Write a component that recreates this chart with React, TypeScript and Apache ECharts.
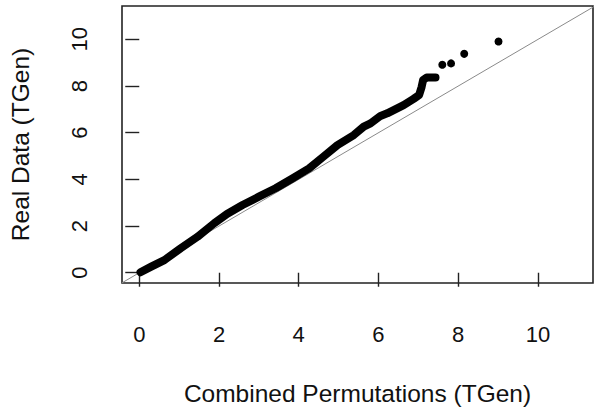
import React, { useEffect, useRef } from "react";
import * as echarts from "echarts";

// Dense quantile band (Combined Permutations vs Real Data)
const bandX = [0.03, 0.3, 0.63, 1.04, 1.46, 1.88, 2.2, 2.59, 3.0, 3.42, 3.84, 4.26, 4.6, 4.97, 5.38, 5.63, 5.8, 6.05, 6.22, 6.63, 6.88, 7.02, 7.08, 7.12, 7.21, 7.43];
const bandY = [0.02, 0.26, 0.54, 1.05, 1.54, 2.12, 2.52, 2.9, 3.26, 3.62, 4.04, 4.47, 4.95, 5.47, 5.9, 6.26, 6.4, 6.72, 6.83, 7.18, 7.45, 7.62, 7.95, 8.26, 8.37, 8.37];
// Isolated upper-tail points
const tailX = [7.6, 7.82, 8.15, 9.01];
const tailY = [8.91, 8.97, 9.38, 9.91];
const tickValues = [0, 2, 4, 6, 8, 10];
const xRange = [-0.433, 11.38];
const yRange = [-0.44, 11.43];

const FONT = "'Liberation Sans', Arial, sans-serif";
const TEXT = "#111";

export default function App() {
  const ref = useRef<HTMLDivElement>(null);
  useEffect(() => {
    document.body.style.margin = "0";
    if (!ref.current) return;
    const chart = echarts.init(ref.current, undefined, { renderer: "svg" });
    const band = bandX.map((x, i) => [x, bandY[i]]);
    const tail = tailX.map((x, i) => [x, tailY[i]]);
    const diag = [
      [Math.min(xRange[0], yRange[0]), Math.min(xRange[0], yRange[0])],
      [Math.max(xRange[1], yRange[1]), Math.max(xRange[1], yRange[1])],
    ];
    chart.setOption({
      animation: false,
      backgroundColor: "#fff",
      grid: {
        left: 121,
        top: 6,
        width: 472,
        height: 277,
        show: true,
        borderColor: "#222",
        borderWidth: 1.6,
        backgroundColor: "transparent",
      },
      xAxis: {
        type: "value",
        min: xRange[0],
        max: xRange[1],
        splitLine: { show: false },
        axisLine: { show: false },
        axisTick: {
          show: true,
          inside: false,
          length: 14,
          lineStyle: { color: "#222", width: 1.4 },
          customValues: tickValues,
        },
        axisLabel: {
          customValues: tickValues,
          margin: 40,
          fontSize: 22,
          color: TEXT,
          fontFamily: FONT,
        },
        name: "Combined Permutations (TGen)",
        nameLocation: "middle",
        nameGap: 98,
        nameTextStyle: { fontSize: 24.5, color: TEXT, fontFamily: FONT },
      },
      yAxis: {
        type: "value",
        min: yRange[0],
        max: yRange[1],
        splitLine: { show: false },
        axisLine: { show: false },
        axisTick: {
          show: true,
          inside: false,
          length: 14,
          lineStyle: { color: "#222", width: 1.4 },
          customValues: tickValues,
        },
        axisLabel: {
          customValues: tickValues,
          rotate: 90,
          margin: 32,
          fontSize: 22,
          color: TEXT,
          fontFamily: FONT,
        },
        name: "Real Data (TGen)",
        nameLocation: "middle",
        nameGap: 89,
        nameTextStyle: { fontSize: 24.5, color: TEXT, fontFamily: FONT },
      },
      series: [
        {
          type: "line",
          data: diag,
          showSymbol: false,
          clip: true,
          lineStyle: { color: "#8a8a8a", width: 1 },
          z: 1,
          silent: true,
        },
        {
          type: "line",
          data: band,
          showSymbol: false,
          lineStyle: { color: "#000", width: 8, cap: "round", join: "round" },
          z: 2,
        },
        {
          type: "scatter",
          data: tail,
          symbol: "circle",
          symbolSize: 8,
          itemStyle: { color: "#000", opacity: 1 },
          z: 3,
        },
      ],
    });
    return () => chart.dispose();
  }, []);
  return <div ref={ref} style={{ width: 601, height: 413 }} />;
}
